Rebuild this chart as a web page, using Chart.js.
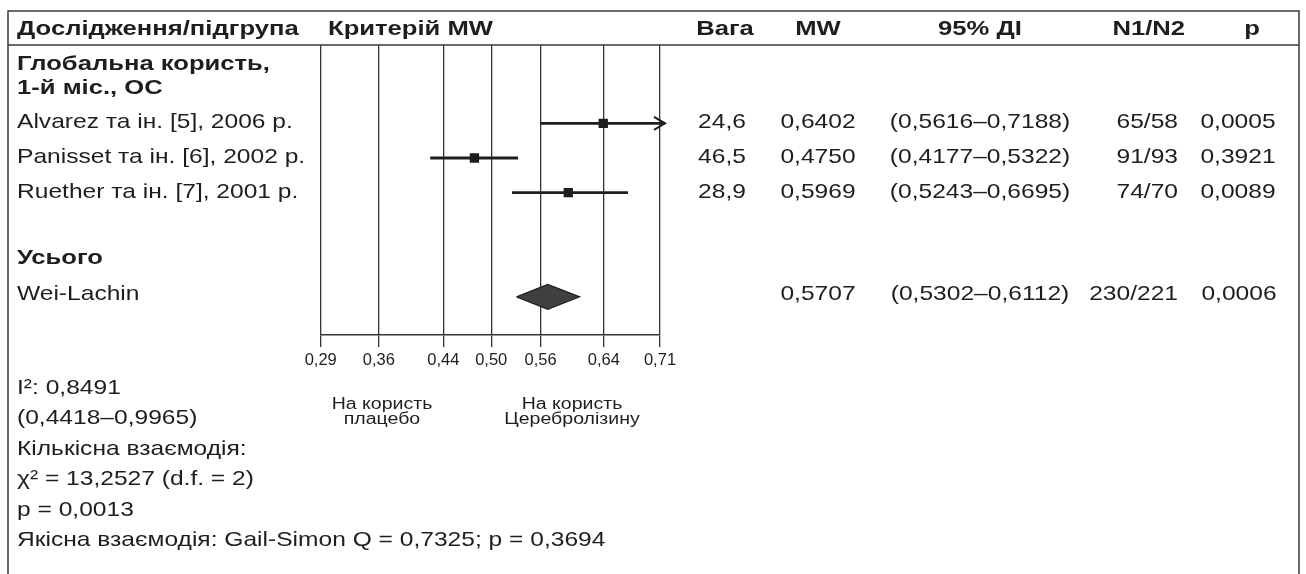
<!DOCTYPE html>
<html>
<head>
<meta charset="utf-8">
<script src="https://cdn.jsdelivr.net/npm/chart.js@4.4.1/dist/chart.umd.min.js"></script>
<style>
  html, body { margin: 0; padding: 0; background: #fff; }
</style>
</head>
<body>
<canvas id="forest" width="1306" height="574"></canvas>
<script>
// studies
var studies   = ['Alvarez та ін. [5], 2006 р.', 'Panisset та ін. [6], 2002 р.', 'Ruether та ін. [7], 2001 р.'];
var weights   = ['24,6', '46,5', '28,9'];
var mw        = [0.6402, 0.4750, 0.5969];
var ciLow     = [0.5616, 0.4177, 0.5243];
var ciHigh    = [0.7188, 0.5322, 0.6695];
var n1n2      = ['65/58', '91/93', '74/70'];
var pValues   = ['0,0005', '0,3921', '0,0089'];
var studyRows = [1, 2, 3];

// pooled (Wei-Lachin)
var totalMw   = 0.5707;
var totalLow  = 0.5302;
var totalHigh = 0.6112;
var totalN    = '230/221';
var totalP    = '0,0006';
var totalRow  = 6;

// axis: grid positions, labels as printed
var tickValues = [0.2876, 0.354, 0.4345, 0.497, 0.5616, 0.641, 0.7056];
var tickLabels = ['0,29', '0,36', '0,44', '0,50', '0,56', '0,64', '0,71'];

var summaryLines = [
  'I²: 0,8491',
  '(0,4418–0,9965)',
  'Кількісна взаємодія:',
  'χ² = 13,2527 (d.f. = 2)',
  'p = 0,0013',
  'Якісна взаємодія: Gail-Simon Q = 0,7325; p = 0,3694'
];

var FONT = "'Liberation Sans', Arial, Helvetica, sans-serif";
var INK = '#1e1e1e';
var WIDE = 1.17; // the printed typeface is wider than Arial

function fmt(v) { return v.toFixed(4).replace('.', ','); }
function logit(p) { return Math.log(p / (1 - p)); }

// MW scale is drawn on the logit (log odds) scale
class LogitScale extends Chart.LinearScale {
  getPixelForValue(value) {
    var lo = logit(this.min), hi = logit(this.max);
    return this.getPixelForDecimal((logit(value) - lo) / (hi - lo));
  }
  getValueForPixel(pixel) {
    var lo = logit(this.min), hi = logit(this.max);
    var t = lo + this.getDecimalForPixel(pixel) * (hi - lo);
    return 1 / (1 + Math.exp(-t));
  }
}
LogitScale.id = 'logit';
LogitScale.defaults = Chart.LinearScale.defaults;
Chart.register(LogitScale);

var squarePoints = mw.map(function (v, i) { return { x: v, y: studyRows[i] }; });
var dh = 0.36;
var diamondPoints = [
  { x: totalLow, y: totalRow },
  { x: totalMw, y: totalRow - dh },
  { x: totalHigh, y: totalRow },
  { x: totalMw, y: totalRow + dh },
  { x: totalLow, y: totalRow }
];

function txt(ctx, s, x, y, align, font, sx) {
  ctx.save();
  ctx.translate(x, y);
  ctx.scale(sx || WIDE, 1);
  ctx.font = font;
  ctx.textAlign = align;
  ctx.fillText(s, 0, 0);
  ctx.restore();
}

// confidence interval whiskers (with arrow when cut by the axis)
var whiskers = {
  id: 'whiskers',
  beforeDatasetsDraw: function (chart) {
    var ctx = chart.ctx, xs = chart.scales.x, ys = chart.scales.y;
    ctx.save();
    ctx.strokeStyle = INK;
    for (var i = 0; i < mw.length; i++) {
      var y = ys.getPixelForValue(studyRows[i]);
      var x1 = xs.getPixelForValue(Math.max(ciLow[i], xs.min));
      var cut = ciHigh[i] > xs.max;
      var x2 = cut ? xs.right + 5 : xs.getPixelForValue(ciHigh[i]);
      ctx.lineWidth = 2.8;
      ctx.beginPath();
      ctx.moveTo(x1, y);
      ctx.lineTo(x2, y);
      ctx.stroke();
      if (cut) {
        ctx.lineWidth = 2;
        ctx.beginPath();
        ctx.moveTo(x2 - 11, y - 6.5);
        ctx.lineTo(x2, y);
        ctx.lineTo(x2 - 11, y + 6.5);
        ctx.stroke();
      }
    }
    ctx.restore();
  }
};

// column positions of the right-hand table (N1/N2 is right aligned)
var colW = 722, colMw = 818, colCi = 980, colNRight = 1178, colP = 1238;

// table text and frame around the plot
var table = {
  id: 'table',
  afterDraw: function (chart) {
    var ctx = chart.ctx, ys = chart.scales.y;
    var area = chart.chartArea;
    var bold = 'bold 21px ' + FONT, reg = '21px ' + FONT, small = '16px ' + FONT;
    var bw = 1.22;
    ctx.save();

    // frame
    ctx.strokeStyle = '#3a3a3a';
    ctx.lineWidth = 1.5;
    ctx.beginPath();
    ctx.moveTo(8, 600); ctx.lineTo(8, 11); ctx.lineTo(1299, 11); ctx.lineTo(1299, 600);
    ctx.moveTo(8, area.top); ctx.lineTo(1299, area.top);
    ctx.stroke();

    ctx.fillStyle = INK;
    ctx.textBaseline = 'middle';

    // header
    var hy = 29;
    txt(ctx, 'Дослідження/підгрупа', 17, hy, 'left', bold, bw);
    txt(ctx, 'Критерій MW', 328, hy, 'left', bold, bw);
    txt(ctx, 'Вага', colW + 3, hy, 'center', bold, bw);
    txt(ctx, 'MW', colMw, hy, 'center', bold, bw);
    txt(ctx, '95% ДІ', colCi, hy, 'center', bold, bw);
    txt(ctx, 'N1/N2', colNRight + 7, hy, 'right', bold, bw);
    txt(ctx, 'p', colP + 14, hy, 'center', bold, bw);

    // group header
    txt(ctx, 'Глобальна користь,', 17, ys.getPixelForValue(-0.7), 'left', bold, bw);
    txt(ctx, '1-й міс., ОС', 17, ys.getPixelForValue(0), 'left', bold, bw);
    txt(ctx, 'Усього', 17, ys.getPixelForValue(4.9), 'left', bold, bw);

    // study rows
    for (var i = 0; i < studies.length; i++) {
      var y = ys.getPixelForValue(studyRows[i]) - 1;
      txt(ctx, studies[i], 17, y, 'left', reg);
      txt(ctx, weights[i], colW, y, 'center', reg);
      txt(ctx, fmt(mw[i]), colMw, y, 'center', reg);
      txt(ctx, '(' + fmt(ciLow[i]) + '–' + fmt(ciHigh[i]) + ')', colCi, y, 'center', reg);
      txt(ctx, n1n2[i], colNRight, y, 'right', reg);
      txt(ctx, pValues[i], colP, y, 'center', reg);
    }

    // pooled row
    var ty = ys.getPixelForValue(totalRow) - 3;
    txt(ctx, 'Wei-Lachin', 17, ty, 'left', reg);
    txt(ctx, fmt(totalMw), colMw, ty, 'center', reg);
    txt(ctx, '(' + fmt(totalLow) + '–' + fmt(totalHigh) + ')', colCi, ty, 'center', reg);
    txt(ctx, totalN, colNRight, ty, 'right', reg);
    txt(ctx, totalP, colP + 1, ty, 'center', reg);

    // heterogeneity summary
    for (var k = 0; k < summaryLines.length; k++) {
      txt(ctx, summaryLines[k], 17, area.bottom + 53 + k * 30.5, 'left', reg);
    }

    // favour labels
    var lx = 382, rx = 572;
    txt(ctx, 'На користь', lx, area.bottom + 70, 'center', small, 1.22);
    txt(ctx, 'плацебо', lx, area.bottom + 85, 'center', small, 1.22);
    txt(ctx, 'На користь', rx, area.bottom + 70, 'center', small, 1.22);
    txt(ctx, 'Церебролізину', rx, area.bottom + 85, 'center', small, 1.22);

    ctx.restore();
  }
};

var chart = new Chart(document.getElementById('forest'), {
  type: 'scatter',
  data: {
    datasets: [
      {
        label: 'MW',
        data: squarePoints,
        pointStyle: 'rect',
        pointRadius: 6.6,
        pointBorderWidth: 0,
        backgroundColor: INK,
        borderColor: INK
      },
      {
        label: 'Wei-Lachin',
        data: diamondPoints,
        showLine: true,
        fill: 'shape',
        tension: 0,
        pointRadius: 0,
        borderWidth: 1.2,
        borderColor: '#222',
        backgroundColor: '#3f3f3f'
      }
    ]
  },
  options: {
    responsive: false,
    animation: false,
    events: [],
    layout: { padding: { left: 320.7, right: 646, top: 45, bottom: 0 } },
    plugins: { legend: { display: false }, tooltip: { enabled: false } },
    scales: {
      x: {
        type: 'logit',
        min: tickValues[0],
        max: tickValues[tickValues.length - 1],
        afterBuildTicks: function (s) {
          s.ticks = tickValues.map(function (v) { return { value: v }; });
        },
        afterFit: function (s) { s.height = 574 - 335; },
        ticks: {
          autoSkip: false,
          maxRotation: 0,
          padding: 4,
          color: INK,
          font: { family: FONT, size: 16.5 },
          callback: function (v, idx) { return tickLabels[idx]; }
        },
        grid: { color: '#333', lineWidth: 1.3, tickLength: 12 },
        border: { color: '#333', width: 1.5 }
      },
      y: {
        type: 'linear',
        display: false,
        reverse: true,
        min: -1.256,
        max: 7.1
      }
    }
  },
  plugins: [whiskers, table]
});
</script>
</body>
</html>
